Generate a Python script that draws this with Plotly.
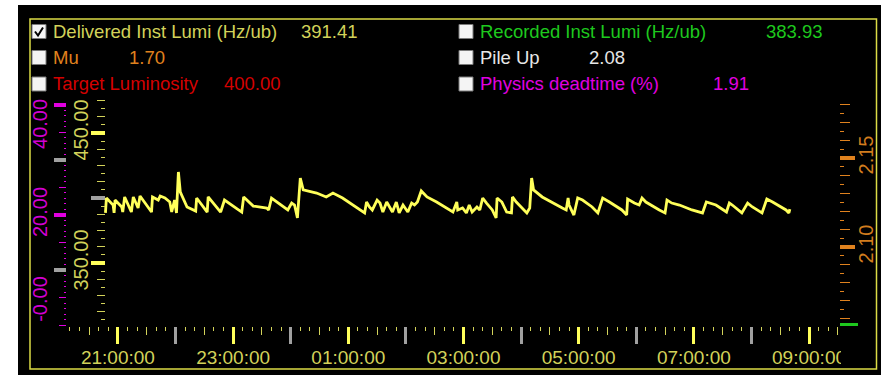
import plotly.graph_objects as go

# ---------------- data ----------------
DAY1, DAY2 = "2024-05-14", "2024-05-15"

lumi_times = [
    "20:47", "20:48", "20:55", "20:56", "20:57", "21:04", "21:05", "21:07", "21:14", "21:16",
    "21:21", "21:23", "21:35", "21:36", "21:42", "21:44", "21:49", "21:54", "21:56", "21:59",
    "22:01", "22:03", "22:05", "22:12", "22:21", "22:22", "22:33", "22:34", "22:47", "22:51",
    "23:09", "23:11", "23:21", "23:35", "23:37", "23:40", "23:57", "00:01", "00:04", "00:07",
    "00:10", "00:13", "00:27", "00:37", "00:44", "00:51", "00:54", "01:17", "01:19", "01:22",
    "01:25", "01:30", "01:33", "01:36", "01:40", "01:43", "01:46", "01:50", "01:53", "01:57",
    "02:02", "02:06", "02:09", "02:12", "02:16", "02:22", "02:32", "02:49", "02:53", "02:54",
    "02:59", "03:03", "03:06", "03:09", "03:14", "03:17", "03:20", "03:24", "03:30", "03:34",
    "03:35", "03:40", "03:45", "03:50", "03:51", "03:55", "04:06", "04:09", "04:11", "04:13",
    "04:22", "04:43", "04:47", "04:49", "04:50", "04:55", "04:59", "05:04", "05:14", "05:20",
    "05:25", "05:32", "05:45", "05:50", "05:51", "05:58", "06:03", "06:06", "06:10", "06:24",
    "06:30", "06:32", "06:37", "06:45", "06:58", "07:09", "07:13", "07:23", "07:34", "07:37",
    "07:40", "07:50", "07:56", "08:01", "08:11", "08:16", "08:22", "08:36", "08:39", "08:40",
]
lumi_values = [
    388.5, 400.0, 394.6, 388.5, 398.4, 393.1, 389.2, 400.8, 389.2, 400.8,
    392.3, 401.5, 389.2, 400.8, 398.4, 401.5, 400.0, 396.9, 389.2, 398.4,
    388.5, 420.0, 404.6, 393.1, 390.0, 400.0, 389.2, 400.8, 389.2, 398.4,
    389.2, 400.8, 393.8, 392.3, 390.8, 400.0, 390.8, 396.1, 394.6, 384.6,
    415.4, 406.2, 403.8, 400.8, 403.8, 401.5, 400.0, 388.5, 396.9, 393.1,
    390.8, 398.4, 396.1, 389.2, 396.9, 393.1, 389.2, 396.9, 388.5, 394.6,
    389.2, 396.1, 394.6, 396.9, 405.4, 400.8, 396.9, 389.2, 396.9, 390.8,
    392.3, 388.5, 394.6, 389.2, 393.1, 390.8, 400.0, 396.1, 390.8, 384.6,
    400.0, 396.9, 389.2, 388.5, 400.8, 396.9, 388.5, 392.3, 415.4, 406.2,
    400.8, 392.3, 390.8, 400.0, 394.6, 386.9, 400.0, 398.4, 393.1, 388.5,
    400.0, 396.9, 390.8, 386.9, 399.2, 396.1, 394.6, 400.0, 396.9, 390.8,
    388.5, 398.4, 396.1, 394.6, 390.8, 388.5, 396.9, 394.6, 389.2, 396.1,
    394.6, 388.5, 396.1, 393.1, 388.5, 399.2, 396.9, 390.8, 388.5, 391.41,
]

mu_value = 1.70
target_lumi = 400.00
recorded_lumi = 383.93
pile_up = 2.08
deadtime = 1.91

time_labels = ["21:00", "23:00", "01:00", "03:00", "05:00", "07:00", "09:00"]
time_marks_grey = ["22:00", "00:00", "02:00", "04:00", "06:00", "08:00"]
lumi_ticks = [350, 450]
lumi_ticks_grey = [400]
dead_ticks = [20, 40]
dead_ticks_grey = [10, 30]
mu_ticks = [2.10, 2.15]

# ---------------- geometry helpers ----------------
W, H = 881, 375
L, R, T, B = 55, 20, 100, 49
PW, PH = W - L - R, H - T - B


def fx(px):
    return (px - L) / PW


def fy(py):
    return (H - B - py) / PH


def stamp(hm):
    day = DAY1 if int(hm[:2]) >= 12 else DAY2
    return f"{day} {hm}"


FONT = "Liberation Sans, Arial, sans-serif"
FS_LEGEND = 18.5
FS_X = 19
FS_Y = 20
KHAKI = "#d2d25a"
YELLOW = "#ffff5a"
GREY = "#a0a0a0"
MAGENTA = "#e000e0"
ORANGE = "#e0821e"
GREEN = "#1ec81e"
CLEAR = "rgba(0,0,0,0)"

x_range = [f"{DAY1} 20:10:04", f"{DAY2} 09:30:10"]
x_dom = [fx(70), fx(838)]
lumi_range = [301.54, 475.38]
dead_range = [-0.18, 40.9]
mu_range = [2.0556, 2.1826]

fig = go.Figure()

fig.add_trace(go.Scatter(
    x=[stamp(t) for t in lumi_times], y=lumi_values, mode="lines",
    line=dict(color=YELLOW, width=2.8), hoverinfo="skip",
))

base = dict(showgrid=False, zeroline=False, showline=False, ticks="outside",
            automargin=False)
xbase = dict(**base, type="date", domain=x_dom, range=x_range, anchor="y")
ybase = dict(**base, type="linear", anchor="free", overlaying="y")

axes = {}

# time axes: 10 min ticks, hour markers, labels every two hours
axes["xaxis"] = dict(**xbase, tickmode="linear", tick0=f"{DAY1} 00:00",
                     dtick=30 * 60 * 1000, ticklen=8, tickwidth=1, tickcolor=KHAKI,
                     showticklabels=False,
                     minor=dict(ticks="outside", dtick=10 * 60 * 1000, ticklen=4,
                                tickwidth=1, tickcolor=KHAKI))
axes["xaxis2"] = dict(**xbase, overlaying="x", tickmode="array",
                      tickvals=[stamp(t) for t in time_labels], ticklen=17, tickwidth=3,
                      tickcolor=YELLOW, showticklabels=False)
axes["xaxis3"] = dict(**xbase, overlaying="x", tickmode="array",
                      tickvals=[stamp(t) for t in time_marks_grey], ticklen=17,
                      tickwidth=3, tickcolor=GREY, showticklabels=False)
axes["xaxis4"] = dict(**xbase, overlaying="x", tickmode="array",
                      tickvals=[stamp(t) for t in time_labels],
                      ticktext=[t + ":00" for t in time_labels], ticklen=14,
                      tickcolor=CLEAR, tickfont=dict(family=FONT, size=FS_X, color=KHAKI))

# luminosity axes (yellow)
lumi_pos = fx(105)
lumi_font = dict(family=FONT, size=FS_Y, color=KHAKI)
axes["yaxis"] = dict(**{k: v for k, v in ybase.items() if k != "overlaying"},
                     range=lumi_range, position=lumi_pos, side="left",
                     tickmode="linear", tick0=350, dtick=12.5, ticklen=8, tickwidth=1,
                     tickcolor=KHAKI, showticklabels=False,
                     minor=dict(ticks="outside", dtick=6.25, ticklen=4, tickwidth=1,
                                tickcolor=KHAKI))
axes["yaxis2"] = dict(**ybase, range=lumi_range, position=lumi_pos, side="left",
                      tickmode="array", tickvals=lumi_ticks, ticklen=14, tickwidth=4,
                      tickcolor=YELLOW, showticklabels=False)
axes["yaxis3"] = dict(**ybase, range=lumi_range, position=lumi_pos, side="left",
                      tickmode="array", tickvals=lumi_ticks_grey, ticklen=14,
                      tickwidth=4, tickcolor=GREY, showticklabels=False)
axes["yaxis4"] = dict(**ybase, range=lumi_range, position=lumi_pos, side="left",
                      tickmode="array", tickvals=lumi_ticks,
                      ticktext=[f"{v:.2f}" for v in lumi_ticks], ticklen=9,
                      tickcolor=CLEAR, tickangle=-90, tickfont=lumi_font)

# physics deadtime axes (magenta)
dead_pos = fx(66)
dead_font = dict(family=FONT, size=FS_Y, color="#d200d2")
axes["yaxis5"] = dict(**ybase, range=dead_range, position=dead_pos, side="left",
                      tickmode="linear", tick0=0, dtick=5, ticklen=7, tickwidth=1,
                      tickcolor=MAGENTA, showticklabels=False,
                      minor=dict(ticks="outside", dtick=1, ticklen=2, tickwidth=1,
                                 tickcolor=MAGENTA))
axes["yaxis6"] = dict(**ybase, range=dead_range, position=dead_pos, side="left",
                      tickmode="array", tickvals=dead_ticks, ticklen=12, tickwidth=4,
                      tickcolor=MAGENTA, showticklabels=False)
axes["yaxis7"] = dict(**ybase, range=dead_range, position=dead_pos, side="left",
                      tickmode="array", tickvals=dead_ticks_grey, ticklen=12,
                      tickwidth=4, tickcolor=GREY, showticklabels=False)
# the end labels are pulled inwards so they stay inside the panel
for name, val, shift in [("yaxis8", 0, -23), ("yaxis9", 20, 0), ("yaxis10", 40, 22)]:
    axes[name] = dict(**ybase, range=dead_range, position=dead_pos, side="left",
                      tickmode="array", tickvals=[val], ticktext=[f"{val:.2f}" if val else "-0.00"],
                      ticklen=11, tickcolor=CLEAR, tickangle=-90, ticklabelshift=shift,
                      tickfont=dead_font)

# mu axes (orange, right)
mu_pos = fx(839)
axes["yaxis11"] = dict(**ybase, range=mu_range, position=mu_pos, side="right",
                       tickmode="linear", tick0=2.0, dtick=0.01, ticklen=10, tickwidth=1,
                       tickcolor=ORANGE, showticklabels=False,
                       minor=dict(ticks="outside", dtick=0.005, ticklen=4, tickwidth=1,
                                  tickcolor=ORANGE))
axes["yaxis12"] = dict(**ybase, range=mu_range, position=mu_pos, side="right",
                       tickmode="array", tickvals=mu_ticks, ticklen=15, tickwidth=4,
                       tickcolor=ORANGE, showticklabels=False)
axes["yaxis13"] = dict(**ybase, range=mu_range, position=mu_pos, side="right",
                       tickmode="array", tickvals=mu_ticks,
                       ticktext=[f"{v:.2f}" for v in mu_ticks], ticklen=9,
                       tickcolor=CLEAR, tickangle=-90,
                       tickfont=dict(family=FONT, size=FS_Y, color="#d27d1e"))

# recorded luminosity axis (green), collapsed at the bottom right
axes["yaxis14"] = dict(**ybase, range=[0, 1], position=mu_pos, side="right",
                       tickmode="array", tickvals=[0.005], ticklen=18, tickwidth=3,
                       tickcolor=GREEN, showticklabels=False)

# empty traces so every overlay axis gets its own subplot
for name in axes:
    if name in ("xaxis", "yaxis"):
        continue
    ref = name.replace("axis", "")
    if ref.startswith("x"):
        fig.add_trace(go.Scatter(x=[], y=[], xaxis=ref, yaxis="y", showlegend=False))
    else:
        fig.add_trace(go.Scatter(x=[], y=[], xaxis="x", yaxis=ref, showlegend=False))

# ---------------- panel, frame, legend ----------------
shapes = [
    dict(type="rect", xref="paper", yref="paper", x0=fx(0), x1=fx(18), y0=fy(H), y1=fy(0),
         fillcolor="white", line_width=0, layer="below"),
    dict(type="rect", xref="paper", yref="paper", x0=fx(0), x1=fx(W), y0=fy(5), y1=fy(0),
         fillcolor="white", line_width=0, layer="below"),
    # the last time label runs under the right-hand axis area
    dict(type="rect", xref="paper", yref="paper", x0=fx(841), x1=fx(875), y0=fy(367),
         y1=fy(342), fillcolor="black", line_width=0, layer="above"),
    dict(type="rect", xref="paper", yref="paper", x0=fx(30), x1=fx(876.5), y0=fy(369),
         y1=fy(19), line=dict(color="#dcdc46", width=1.5), layer="above"),
]

legend_rows = [
    # (box x, row centre y, label, label colour, value text, value x, checked)
    (32, 31.5, "Delivered Inst Lumi (Hz/ub)", KHAKI, f"{lumi_values[-1]:.2f}", 300, True),
    (32, 57.5, "Mu", ORANGE, f"{mu_value:.2f}", 128, False),
    (32, 84, "Target Luminosity", "#d40000", f"{target_lumi:.2f}", 223, False),
    (459, 31.5, "Recorded Inst Lumi (Hz/ub)", GREEN, f"{recorded_lumi:.2f}", 765, False),
    (459, 57.5, "Pile Up", "#e6e6e6", f"{pile_up:.2f}", 588, False),
    (459, 84, "Physics deadtime (%)", MAGENTA, f"{deadtime:.2f}", 712, False),
]

annotations = []
for bx, cy, label, color, val, vx, checked in legend_rows:
    shapes.append(dict(type="rect", xref="paper", yref="paper", x0=fx(bx), x1=fx(bx + 14),
                       y0=fy(cy + 7), y1=fy(cy - 7), fillcolor="#f4f4f4",
                       line=dict(color="#7a7a7a", width=1), layer="above"))
    if checked:
        shapes.append(dict(type="path", xref="paper", yref="paper", layer="above",
                           path=(f"M {fx(bx + 3)},{fy(cy)} L {fx(bx + 6)},{fy(cy + 4)} "
                                 f"L {fx(bx + 11)},{fy(cy - 4)}"),
                           line=dict(color="black", width=2)))
    annotations.append(dict(xref="paper", yref="paper", x=fx(bx + 19), y=fy(cy),
                            xanchor="left", yanchor="middle", showarrow=False, text=label,
                            font=dict(family=FONT, size=FS_LEGEND, color=color)))
    annotations.append(dict(xref="paper", yref="paper", x=fx(vx - 1), y=fy(cy),
                            xanchor="left", yanchor="middle", showarrow=False, text=val,
                            font=dict(family=FONT, size=FS_LEGEND, color=color)))

fig.update_layout(
    width=W, height=H, margin=dict(l=L, r=R, t=T, b=B),
    paper_bgcolor="black", plot_bgcolor="black", showlegend=False,
    shapes=shapes, annotations=annotations, **axes,
)

fig.write_html("out.html")
